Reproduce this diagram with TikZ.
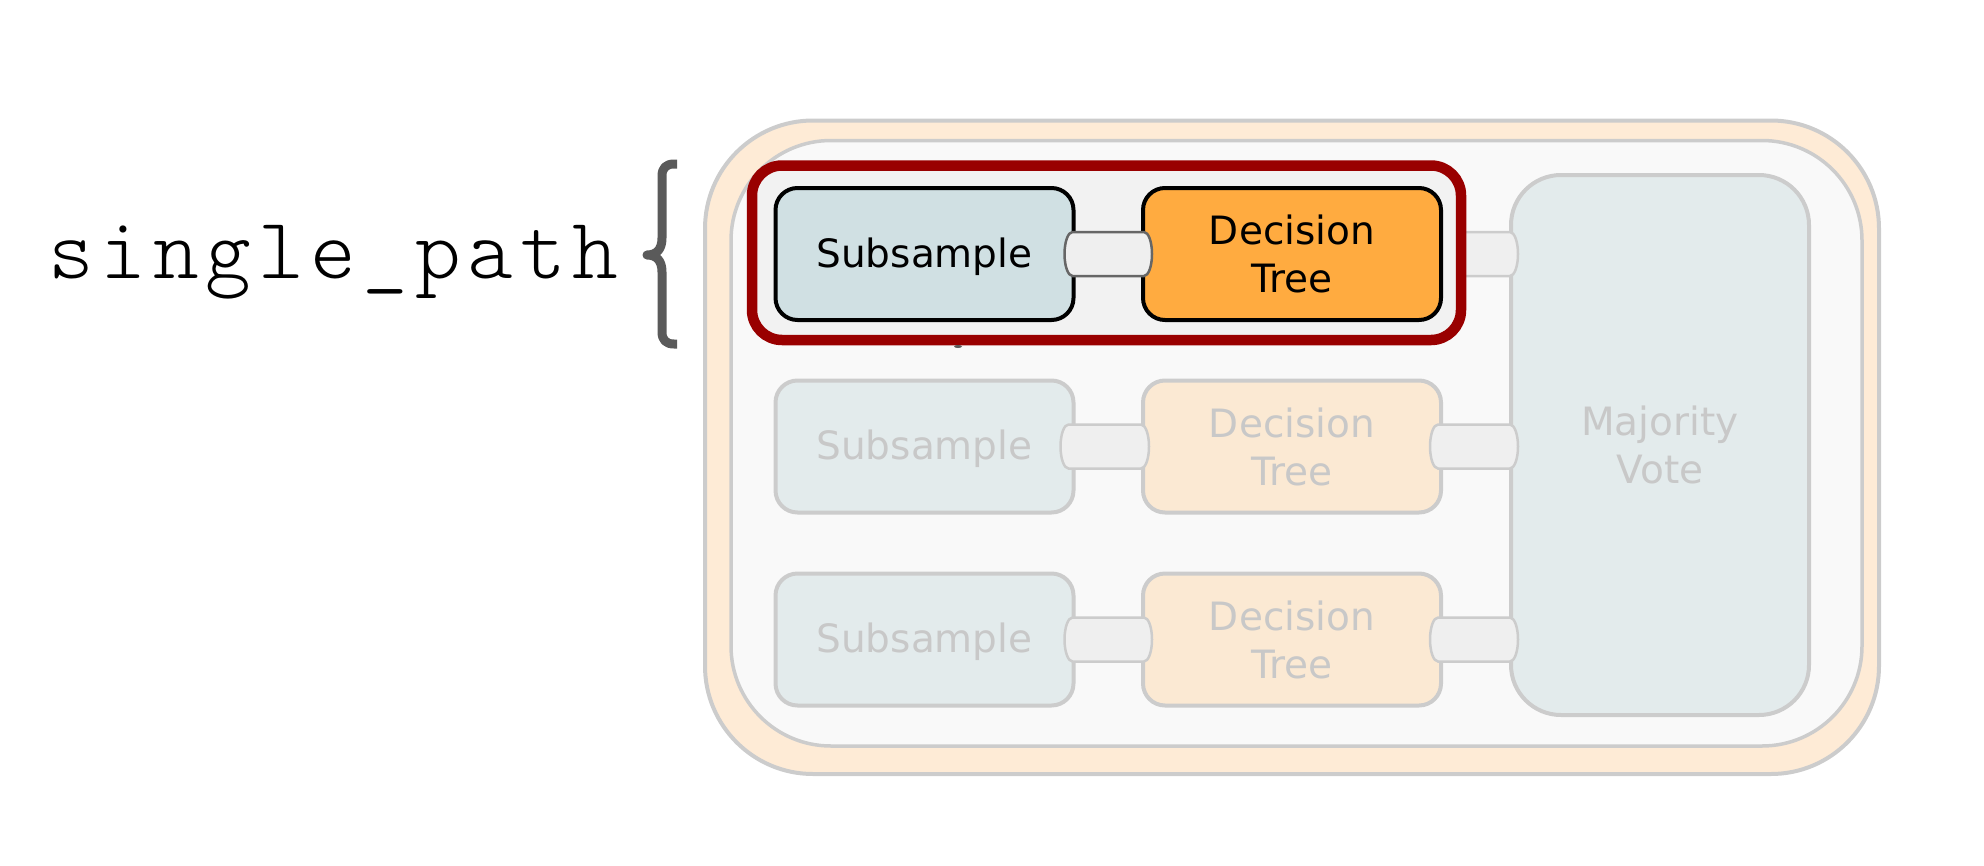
\documentclass[tikz,border=0pt]{standalone}
\usepackage{fontspec}
\newfontfamily\boxfont{DejaVu Sans}
\newfontfamily\codefont[LetterSpace=7.8]{lmmonolt10-regular.otf}
\usetikzlibrary{calc}
\definecolor{frameline}{HTML}{CCCCCC}
\definecolor{peach}{HTML}{FEEBD6}
\definecolor{innerfill}{HTML}{F9F9F9}
\definecolor{redline}{HTML}{990000}
\definecolor{redfill}{HTML}{F2F2F2}
\definecolor{ssblue}{HTML}{D0E0E3}
\definecolor{dtorange}{HTML}{FFAB40}
\definecolor{ssfaded}{HTML}{E3EBEC}
\definecolor{dtfaded}{HTML}{FBE9D3}
\definecolor{fadetext}{HTML}{C8C8C8}
\definecolor{pipefill}{HTML}{EFEFEF}
\definecolor{bracegray}{HTML}{5A5A5A}
\pgfdeclarelayer{back}
\pgfsetlayers{back,main}
\newcommand\pipelink[5]{%
  \draw[#1] ($#2+(#3+8,-22)$) -- ($#4+(#5-8,-22)$)
    arc[start angle=-90,end angle=90,x radius=8,y radius=22]
    -- ($#2+(#3+8,22)$)
    arc[start angle=90,end angle=270,x radius=8,y radius=22] -- cycle;}
\begin{document}
\begin{tikzpicture}[x=1pt,y=-1pt,
  box/.style={rounded corners=22pt, minimum width=298pt, minimum height=132pt,
    inner sep=0pt, line width=4pt, align=center,
    font=\boxfont\fontsize{39}{48}\selectfont},
  ssact/.style={box, draw=black, fill=ssblue, text=black, text depth=3.6pt},
  dtact/.style={box, draw=black, fill=dtorange, text=black},
  ssfade/.style={box, draw=frameline, fill=ssfaded, text=fadetext, text depth=3.6pt},
  dtfade/.style={box, draw=frameline, fill=dtfaded, text=fadetext},
  pipe/.style={draw=frameline, fill=pipefill, line width=2.5pt},
  pipeact/.style={draw=black!60, fill=pipefill, line width=2.5pt},
  bracestyle/.style={draw=bracegray, line width=9pt, line join=round}
]
\useasboundingbox (0,0) rectangle (1984,865);

\begin{pgfonlayer}{back}
\node[draw=frameline, fill=peach, line width=4pt, rounded corners=108pt,
  minimum width=1174pt, minimum height=653.5pt, inner sep=0pt] (outer) at (1292,447.25) {};
\node[draw=frameline, fill=innerfill, line width=3.5pt, rounded corners=100pt,
  minimum width=1131pt, minimum height=605.5pt, inner sep=0pt] (inner) at (1296.5,443.25) {};
\node[box, draw=frameline, fill=ssfaded, text=fadetext, rounded corners=50pt,
  minimum height=540pt] (mv) at (1660,445) {Majority\\Vote};
\end{pgfonlayer}

% highlighted single path
\node[draw=redline, fill=redfill, line width=10.5pt, rounded corners=30pt,
  minimum width=709pt, minimum height=174.5pt, inner sep=0pt] (red) at (1106.5,252.75) {};
\node[ssact] (ss1) at (924.5,254) {Subsample};
\node[dtact] (dt1) at (1292,254) {Decision\\Tree};
\pipelink{pipeact}{(ss1.east)}{-11}{(dt1.west)}{11}

\begin{pgfonlayer}{back}
\pipelink{pipe}{(dt1.east)}{-13}{(mv.west |- dt1.east)}{9}
\end{pgfonlayer}

% faded rows
\node[ssfade] (ss2) at (924.5,446.5) {Subsample};
\node[dtfade] (dt2) at (1292,446.5) {Decision\\Tree};
\node[ssfade] (ss3) at (924.5,639.5) {Subsample};
\node[dtfade] (dt3) at (1292,639.5) {Decision\\Tree};
\pipelink{pipe}{(ss2.east)}{-15}{(dt2.west)}{8}
\pipelink{pipe}{(dt2.east)}{-13}{(mv.west |- dt2.east)}{9}
\pipelink{pipe}{(ss3.east)}{-11}{(dt3.west)}{11}
\pipelink{pipe}{(dt3.east)}{-13}{(mv.west |- dt3.east)}{9}

% tiny mark under the red frame
\fill[bracegray] (958,346.5) ellipse [x radius=4, y radius=1.5];

% brace and label
\draw[bracestyle] (677,164) -- (674,164) .. controls (666,164) and (662,168) .. (662,176)
  -- (662,238) .. controls (662,250) and (656,255) .. (647,255)
  .. controls (656,255) and (662,260) .. (662,272)
  -- (662,332) .. controls (662,340) and (666,344) .. (674,344) -- (677,344);
\node[anchor=base west, inner sep=0pt, font=\codefont\fontsize{87}{90}\selectfont]
  (label) at (48,278) {single\_path};
\end{tikzpicture}
\end{document}
